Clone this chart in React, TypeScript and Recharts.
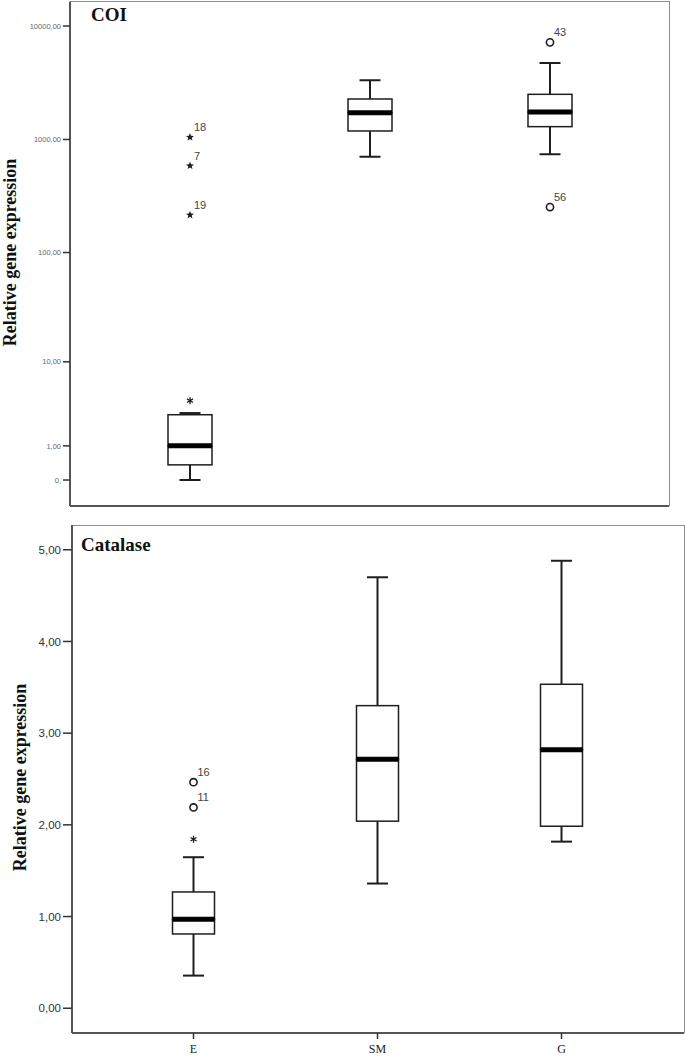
import React from 'react';
import { ComposedChart, Bar, Scatter, XAxis, YAxis } from 'recharts';

const groups = ['E', 'SM', 'G'];

const coiMin = [0, 705, 740];
const coiQ1 = [0.36, 1188, 1297];
const coiMedian = [1.0, 1722, 1746];
const coiQ3 = [2.76, 2274, 2500];
const coiMax = [2.89, 3325, 4720];
const coiOutliers = [
  { group: 'E', value: 1045, kind: 'star', label: '18' },
  { group: 'E', value: 587, kind: 'star', label: '7' },
  { group: 'E', value: 215, kind: 'star', label: '19' },
  { group: 'E', value: 4.0, kind: 'asterisk', label: '' },
  { group: 'G', value: 7180, kind: 'circle', label: '43' },
  { group: 'G', value: 253, kind: 'circle', label: '56' },
];
const coiTicks = [0, 1, 10, 100, 1000, 10000];

// Catalase
const catMin = [0.356, 1.36, 1.817];
const catQ1 = [0.81, 2.04, 1.985];
const catMedian = [0.97, 2.715, 2.82];
const catQ3 = [1.268, 3.3, 3.533];
const catMax = [1.647, 4.7, 4.88];
const catOutliers = [
  { group: 'E', value: 2.465, kind: 'circle', label: '16' },
  { group: 'E', value: 2.19, kind: 'circle', label: '11' },
  { group: 'E', value: 1.843, kind: 'asterisk', label: '' },
];
const catTicks = [0, 1, 2, 3, 4, 5];

type Outlier = { group: string; value: number; kind: string; label: string };

const buildRows = (
  min: number[], q1: number[], med: number[], q3: number[], max: number[], outliers: Outlier[]
) =>
  groups.map((g, i) => ({
    group: g,
    base: min[i],
    lowWhisker: q1[i] - min[i],
    lowBox: med[i] - q1[i],
    highBox: q3[i] - med[i],
    highWhisker: max[i] - q3[i],
    outliers: outliers.filter((o) => o.group === g),
  }));

const INK = '#1e1e1e';
const SANS = 'Liberation Sans, Arial, sans-serif';
const SERIF = 'Liberation Serif, Times New Roman, serif';
const CAP = 21;

const span = (p: any) => {
  const a = p.y;
  const b = p.y + p.height;
  return { cx: p.x + p.width / 2, top: Math.min(a, b), bot: Math.max(a, b) };
};

const Empty = () => <g />;

const LowWhisker = (p: any) => {
  const { cx, top, bot } = span(p);
  return (
    <g>
      <line x1={cx} x2={cx} y1={top} y2={bot} stroke={INK} strokeWidth={2} />
      <line x1={cx - CAP / 2} x2={cx + CAP / 2} y1={bot} y2={bot} stroke={INK} strokeWidth={2} />
    </g>
  );
};

const HighWhisker = (p: any) => {
  const { cx, top, bot } = span(p);
  return (
    <g>
      <line x1={cx} x2={cx} y1={top} y2={bot} stroke={INK} strokeWidth={2} />
      <line x1={cx - CAP / 2} x2={cx + CAP / 2} y1={top} y2={top} stroke={INK} strokeWidth={2} />
    </g>
  );
};

const LowBox = (p: any) => {
  const { top, bot } = span(p);
  return <rect x={p.x} y={top} width={p.width} height={bot - top} fill="#fff" stroke={INK} strokeWidth={1.5} />;
};

const HighBox = (p: any) => {
  const { top, bot } = span(p);
  return (
    <g>
      <rect x={p.x} y={top} width={p.width} height={bot - top} fill="#fff" stroke={INK} strokeWidth={1.5} />
      <line x1={p.x} x2={p.x + p.width} y1={bot} y2={bot} stroke="#000" strokeWidth={5} />
    </g>
  );
};

const starPoints = (cx: number, cy: number, ro: number, ri: number) => {
  const pts: string[] = [];
  for (let i = 0; i < 10; i++) {
    const r = i % 2 === 0 ? ro : ri;
    const a = -Math.PI / 2 + (i * Math.PI) / 5;
    pts.push(`${cx + r * Math.cos(a)},${cy + r * Math.sin(a)}`);
  }
  return pts.join(' ');
};

const outlierShape = (slot: number) => (p: any) => {
  const o: Outlier | undefined = p.payload?.outliers?.[slot];
  if (!o || p.cx == null || p.cy == null || isNaN(p.cy)) return <g />;
  const { cx, cy } = p;
  let mark;
  if (o.kind === 'star') {
    mark = <polygon points={starPoints(cx, cy, 4.2, 1.8)} fill={INK} />;
  } else if (o.kind === 'asterisk') {
    mark = (
      <g stroke={INK} strokeWidth={1.3}>
        <line x1={cx} x2={cx} y1={cy - 3.5} y2={cy + 3.5} />
        <line x1={cx - 3} x2={cx + 3} y1={cy - 1.8} y2={cy + 1.8} />
        <line x1={cx - 3} x2={cx + 3} y1={cy + 1.8} y2={cy - 1.8} />
      </g>
    );
  } else {
    mark = <circle cx={cx} cy={cy} r={3.6} fill="#fff" stroke={INK} strokeWidth={1.6} />;
  }
  return (
    <g>
      {mark}
      {o.label && (
        <text x={cx + 4} y={cy - 6} fontSize={11} fill="#444" fontFamily={SANS}>
          {o.label}
        </text>
      )}
    </g>
  );
};

type PanelProps = {
  rows: ReturnType<typeof buildRows>;
  top: number;
  height: number;
  margin: { top: number; right: number; bottom: number; left: number };
  yWidth: number;
  xHeight: number;
  xPadding: { left: number; right: number };
  scale: any;
  domain: [number, number];
  ticks: number[];
  format: (v: number) => string;
  yTick: any;
  yTickSize: number;
  xTickLabels: boolean;
  xTickSize: number;
  boxWidth: number;
  title: string;
  titleX: number;
  titleY: number;
  labelX: number;
  labelY: number;
  frame: { left: number; top: number; right: number; bottom: number };
};

function BoxPanel(props: PanelProps) {
  const { rows, frame } = props;
  return (
    <div style={{ position: 'absolute', left: 0, top: props.top, width: 685, height: props.height }}>
      <div
        style={{
          position: 'absolute',
          left: frame.left,
          top: frame.top,
          width: frame.right - frame.left,
          height: frame.bottom - frame.top,
          borderTop: '1.5px solid #8f8f8f',
          borderRight: '1.5px solid #8f8f8f',
          boxSizing: 'border-box',
        }}
      />
      <ComposedChart width={685} height={props.height} data={rows} margin={props.margin}>
        <XAxis
          dataKey="group"
          type="category"
          allowDuplicatedCategory={false}
          height={props.xHeight}
          padding={props.xPadding}
          axisLine={{ stroke: '#555', strokeWidth: 2 }}
          tickLine={{ stroke: '#333', strokeWidth: 1.5 }}
          tickSize={props.xTickSize}
          tickMargin={5}
          tick={props.xTickLabels ? { fontSize: 12, fill: '#222', fontFamily: SERIF } : false}
        />
        <YAxis
          type="number"
          scale={props.scale}
          domain={props.domain}
          allowDataOverflow
          ticks={props.ticks}
          interval={0}
          width={props.yWidth}
          tickFormatter={props.format}
          axisLine={{ stroke: '#555', strokeWidth: 2 }}
          tickLine={{ stroke: '#333', strokeWidth: 1.5 }}
          tickSize={props.yTickSize}
          tickMargin={2}
          tick={props.yTick}
        />
        <Bar dataKey="base" stackId="box" barSize={props.boxWidth} shape={Empty} isAnimationActive={false} />
        <Bar dataKey="lowWhisker" stackId="box" barSize={props.boxWidth} shape={LowWhisker} isAnimationActive={false} />
        <Bar dataKey="lowBox" stackId="box" barSize={props.boxWidth} shape={LowBox} isAnimationActive={false} />
        <Bar dataKey="highBox" stackId="box" barSize={props.boxWidth} shape={HighBox} isAnimationActive={false} />
        <Bar dataKey="highWhisker" stackId="box" barSize={props.boxWidth} shape={HighWhisker} isAnimationActive={false} />
        {[0, 1, 2, 3].map((k) => (
          <Scatter
            key={k}
            dataKey={(r: any) => (r.outliers[k] ? r.outliers[k].value : null)}
            shape={outlierShape(k)}
            isAnimationActive={false}
          />
        ))}
        <text x={props.titleX} y={props.titleY} fontSize={19} fontWeight="bold" fontFamily={SERIF} fill="#111">
          {props.title}
        </text>
        <text
          x={props.labelX}
          y={props.labelY}
          transform={`rotate(-90, ${props.labelX}, ${props.labelY})`}
          textAnchor="middle"
          fontSize={18}
          fontWeight="bold"
          fontFamily={SERIF}
          fill="#111"
        >
          Relative gene expression
        </text>
      </ComposedChart>
    </div>
  );
}

const commaFormat = (v: number) => v.toFixed(2).replace('.', ',');

export default function App() {
  const coiRows = buildRows(coiMin, coiQ1, coiMedian, coiQ3, coiMax, coiOutliers);
  const catRows = buildRows(catMin, catQ1, catMedian, catQ3, catMax, catOutliers);
  return (
    <div style={{ position: 'absolute', left: 0, top: 0, width: 685, height: 1057, background: '#fff' }}>
      <BoxPanel
        rows={coiRows}
        top={0}
        height={520}
        margin={{ top: 1.5, right: 16, bottom: 0, left: 0 }}
        yWidth={70}
        xHeight={14}
        xPadding={{ left: 30, right: 29 }}
        scale="symlog"
        domain={[-0.694, 16440]}
        ticks={coiTicks}
        format={(v: number) => (v === 0 ? '0,' : commaFormat(v))}
        yTick={{ fontSize: 7.5, fill: '#666', fontFamily: SANS }}
        yTickSize={7}
        xTickLabels={false}
        xTickSize={5}
        boxWidth={44}
        title="COI"
        titleX={91}
        titleY={21}
        labelX={16}
        labelY={252.5}
        frame={{ left: 70, top: 1, right: 670, bottom: 506 }}
      />
      <BoxPanel
        rows={catRows}
        top={520}
        height={537}
        margin={{ top: 5, right: 1, bottom: 0, left: 0 }}
        yWidth={72}
        xHeight={24}
        xPadding={{ left: 29.5, right: 30.5 }}
        scale="linear"
        domain={[-0.27, 5.27]}
        ticks={catTicks}
        format={commaFormat}
        yTick={{ fontSize: 11.5, fill: '#333', fontFamily: SANS }}
        yTickSize={9}
        xTickLabels={true}
        xTickSize={6}
        boxWidth={42}
        title="Catalase"
        titleX={81}
        titleY={30.7}
        labelX={26}
        labelY={257.5}
        frame={{ left: 72, top: 4.5, right: 685, bottom: 513 }}
      />
    </div>
  );
}
